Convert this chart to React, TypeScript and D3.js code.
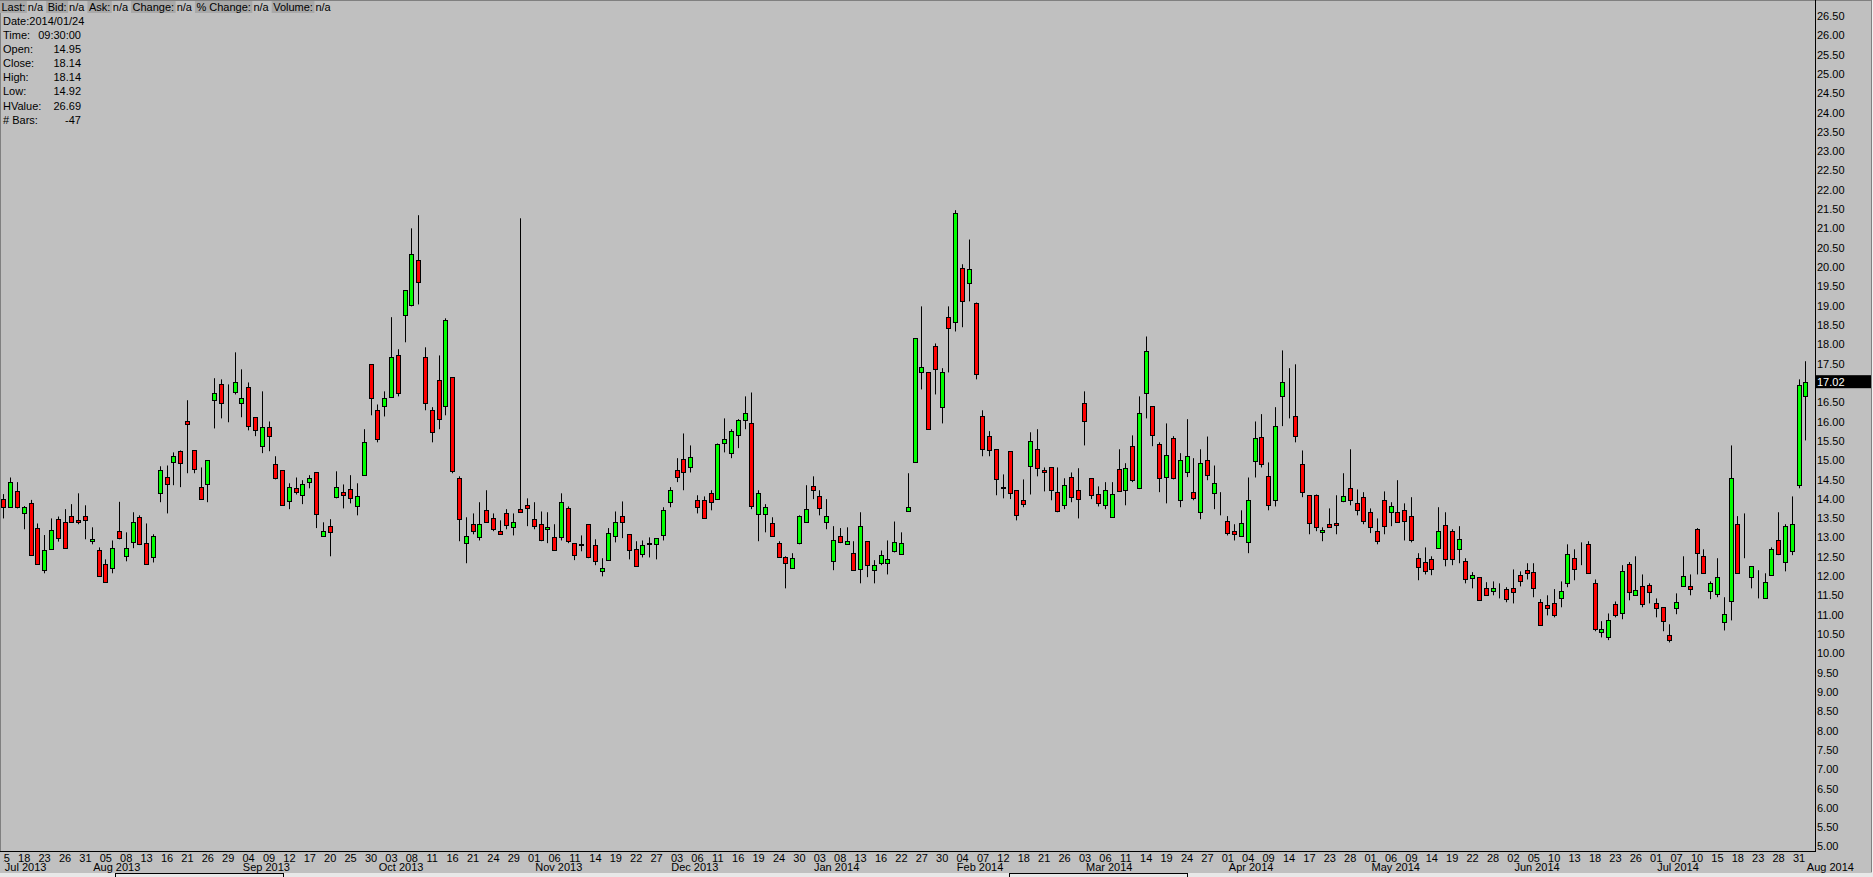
import React, { useRef, useEffect } from "react";
import * as d3 from "d3";

// exchange holidays inside the range (no bars on these days)
const holidays = [
  "2013-09-02", "2013-11-28", "2013-12-25", "2014-01-01", "2014-01-20",
  "2014-02-17", "2014-04-18", "2014-05-26", "2014-07-04",
];

// daily OHLC, 2013-07-15 .. 2014-08-01
const opens = [
  13.98, 13.77, 14.19, 13.61, 13.87, 13.23, 12.14, 12.69, 13.46, 13.40, 13.54, 13.43, 13.54, 12.89, 12.65, 12.29, 12.19, 13.15, 12.50, 12.86,
  13.51, 12.84, 12.47, 14.13, 14.54, 14.93, 15.22, 15.99, 15.24, 14.29, 14.36, 16.54, 16.95, 16.77, 16.75, 16.46, 16.87, 16.10, 15.35, 15.84,
  14.88, 14.73, 13.92, 14.26, 14.08, 14.42, 14.67, 13.02, 13.28, 14.03, 14.16, 14.24, 13.79, 14.60, 17.47, 16.28, 16.38, 16.62, 17.70, 18.74,
  19.00, 20.16, 17.65, 16.28, 17.06, 16.38, 17.13, 14.52, 12.84, 13.33, 12.99, 13.69, 13.48, 13.15, 13.61, 13.25, 13.72, 13.82, 13.46, 13.33,
  13.20, 12.99, 12.99, 13.74, 12.84, 12.81, 13.33, 12.78, 12.11, 12.40, 13.02, 13.54, 13.07, 12.68, 12.55, 12.82, 12.81, 13.04, 13.90, 14.73,
  15.01, 14.80, 13.95, 13.95, 14.13, 13.98, 15.42, 15.17, 15.63, 16.02, 15.94, 13.59, 13.59, 13.35, 12.84, 12.48, 12.19, 12.84, 13.40, 14.31,
  14.05, 13.40, 12.37, 13.02, 12.81, 12.58, 12.16, 12.89, 12.14, 12.32, 12.32, 12.63, 12.55, 13.66, 14.95, 17.26, 17.26, 17.94, 16.36, 18.69,
  18.56, 19.96, 19.57, 19.07, 16.12, 15.61, 15.27, 14.28, 15.22, 14.21, 13.95, 14.83, 15.27, 14.73, 14.80, 14.16, 13.82, 14.55, 14.21, 16.46,
  14.52, 14.10, 13.82, 13.51, 14.75, 14.21, 15.35, 14.26, 16.72, 16.38, 15.40, 14.55, 15.55, 13.95, 14.67, 14.16, 13.64, 14.98, 14.13, 13.87,
  13.41, 13.15, 13.02, 12.86, 14.96, 15.58, 14.57, 13.97, 16.64, 16.10, 16.12, 14.88, 14.08, 14.08, 13.12, 13.33, 13.35, 13.92, 14.26, 13.87,
  14.03, 13.64, 13.15, 13.95, 13.64, 13.64, 13.69, 13.54, 12.45, 12.35, 12.42, 12.71, 13.30, 13.15, 12.68, 12.37, 11.93, 11.96, 11.67, 11.59,
  11.57, 11.65, 11.67, 12.01, 12.14, 12.09, 11.31, 11.23, 11.28, 11.41, 11.80, 12.45, 12.63, 12.81, 11.80, 10.53, 10.40, 11.26, 11.02, 12.29,
  11.49, 11.72, 11.75, 11.28, 11.18, 10.45, 11.15, 11.72, 11.72, 13.20, 12.50, 11.59, 11.52, 10.79, 11.33, 13.33, 12.82, 11.96, 11.54, 11.41,
  12.01, 12.91, 12.34, 12.63, 14.34, 16.64,
];
const highs = [
  14.11, 14.54, 14.42, 13.80, 13.96, 13.35, 13.05, 13.48, 13.53, 13.72, 13.85, 14.13, 13.82, 13.25, 12.73, 12.42, 12.91, 13.91, 13.12, 13.64,
  13.56, 13.35, 13.07, 14.83, 14.85, 15.19, 15.24, 16.54, 15.24, 14.80, 14.98, 17.11, 17.08, 16.95, 17.78, 17.34, 17.00, 16.10, 16.77, 15.99,
  15.09, 14.73, 14.39, 14.54, 14.47, 14.60, 14.67, 13.38, 13.46, 14.70, 14.36, 14.60, 14.39, 15.79, 17.47, 16.43, 16.77, 18.69, 17.86, 19.39,
  20.99, 21.33, 17.91, 16.36, 17.70, 18.66, 17.13, 14.57, 13.51, 13.61, 13.90, 14.21, 13.61, 13.43, 13.72, 13.61, 21.25, 14.00, 13.90, 13.66,
  13.64, 13.33, 14.13, 13.79, 12.84, 13.04, 13.33, 12.94, 12.45, 13.23, 13.66, 13.92, 13.07, 12.89, 12.91, 12.99, 12.97, 13.77, 14.29, 15.04,
  15.68, 15.37, 14.08, 14.05, 14.21, 15.42, 16.07, 15.79, 16.05, 16.64, 16.74, 14.21, 13.85, 13.51, 12.89, 12.50, 12.58, 13.56, 14.34, 14.57,
  14.21, 13.98, 13.28, 13.23, 13.25, 12.89, 13.64, 12.89, 12.40, 12.65, 12.91, 13.40, 13.12, 14.65, 18.14, 18.97, 17.26, 18.01, 17.37, 18.97,
  21.46, 20.06, 20.70, 19.07, 16.28, 15.74, 15.27, 14.62, 15.22, 14.21, 14.49, 15.71, 15.79, 14.80, 14.80, 14.80, 14.52, 14.67, 14.78, 16.77,
  14.52, 14.31, 14.42, 14.42, 15.27, 14.91, 15.63, 16.64, 18.19, 16.38, 15.45, 15.94, 15.61, 15.17, 16.05, 15.04, 15.27, 15.60, 14.85, 14.16,
  13.54, 13.33, 13.69, 14.54, 15.99, 16.18, 14.93, 16.36, 17.83, 17.37, 17.47, 15.24, 14.08, 14.10, 13.25, 13.74, 14.08, 14.65, 15.27, 14.23,
  14.16, 13.74, 13.48, 14.18, 13.90, 14.47, 13.87, 14.03, 12.58, 12.73, 12.50, 13.77, 13.64, 13.20, 13.28, 12.45, 12.09, 11.96, 11.83, 11.85,
  11.80, 11.70, 12.16, 12.11, 12.32, 12.32, 11.39, 11.49, 11.65, 11.85, 12.81, 12.68, 12.86, 12.89, 11.90, 10.82, 11.02, 11.33, 12.27, 12.35,
  12.50, 12.03, 11.80, 11.41, 11.18, 10.74, 11.54, 12.50, 12.03, 13.23, 12.68, 11.85, 12.45, 11.44, 15.37, 13.54, 13.61, 12.24, 12.14, 12.06,
  12.73, 13.64, 13.33, 14.05, 17.08, 17.55,
];
const lows = [
  13.48, 13.75, 13.74, 13.20, 12.53, 12.29, 12.06, 12.69, 12.88, 12.71, 13.38, 13.33, 12.94, 12.81, 11.98, 11.83, 12.06, 12.94, 12.37, 12.71,
  12.79, 12.29, 12.34, 13.90, 13.61, 14.34, 14.29, 14.65, 14.65, 13.98, 13.90, 15.81, 16.07, 15.97, 16.69, 16.10, 15.76, 15.61, 15.17, 15.22,
  14.49, 13.82, 13.72, 14.10, 13.85, 14.26, 13.23, 13.02, 12.50, 14.00, 13.74, 13.87, 13.56, 14.60, 16.15, 15.45, 16.12, 16.62, 16.64, 18.04,
  18.97, 19.02, 16.28, 15.45, 15.79, 16.15, 14.65, 12.89, 12.32, 13.07, 12.91, 13.40, 13.15, 13.07, 13.20, 13.04, 13.64, 13.28, 13.20, 12.89,
  12.84, 12.65, 12.91, 12.84, 12.40, 12.63, 12.45, 12.27, 11.98, 12.40, 12.86, 12.97, 12.42, 12.24, 12.47, 12.47, 12.42, 12.91, 13.77, 14.42,
  14.21, 14.67, 13.61, 13.48, 13.69, 13.98, 15.19, 15.04, 15.30, 15.79, 13.72, 12.89, 13.12, 13.02, 12.48, 11.67, 12.19, 12.81, 13.38, 13.98,
  13.56, 13.20, 12.14, 12.84, 12.81, 12.14, 11.80, 11.96, 11.80, 12.27, 12.03, 12.60, 12.55, 13.66, 14.92, 16.82, 15.79, 16.69, 15.94, 17.26,
  18.32, 18.43, 19.10, 17.08, 15.09, 15.09, 14.08, 14.00, 13.98, 13.43, 13.77, 14.10, 14.57, 14.18, 13.95, 13.64, 13.72, 13.90, 13.48, 15.37,
  13.98, 13.79, 13.72, 13.51, 14.18, 13.82, 14.42, 14.24, 16.07, 15.35, 14.16, 13.87, 14.49, 13.77, 14.55, 13.95, 13.46, 14.47, 13.72, 13.56,
  13.04, 12.91, 13.02, 12.58, 14.54, 14.80, 13.69, 13.79, 15.87, 16.07, 15.45, 14.03, 13.07, 13.15, 12.89, 13.25, 13.07, 13.90, 13.82, 13.56,
  13.33, 13.10, 12.81, 13.07, 13.28, 13.38, 12.91, 12.86, 11.88, 12.03, 12.01, 12.71, 12.24, 12.27, 12.32, 11.80, 11.67, 11.36, 11.49, 11.49,
  11.41, 11.31, 11.28, 11.72, 11.90, 11.44, 10.71, 10.97, 10.92, 11.18, 11.70, 11.88, 12.27, 12.06, 10.56, 10.40, 10.33, 10.92, 10.87, 11.36,
  11.49, 11.18, 11.28, 10.92, 10.56, 10.27, 11.00, 11.72, 11.49, 12.03, 12.06, 11.39, 11.44, 10.58, 10.84, 12.06, 12.45, 11.67, 11.41, 11.41,
  12.01, 12.53, 12.11, 12.53, 14.26, 15.50,
];
const closes = [
  13.77, 14.42, 13.77, 13.77, 12.53, 12.29, 12.65, 13.17, 12.97, 12.71, 13.38, 13.38, 13.43, 12.94, 11.98, 11.83, 12.71, 12.97, 12.71, 13.40,
  12.81, 12.29, 13.02, 14.73, 14.36, 15.09, 14.91, 15.92, 14.75, 13.98, 14.98, 16.74, 16.46, 16.78, 17.00, 16.59, 15.87, 15.76, 15.84, 15.61,
  14.52, 13.82, 14.29, 14.16, 14.36, 14.52, 13.59, 13.15, 13.12, 14.29, 14.08, 14.00, 14.05, 15.45, 16.59, 15.53, 16.59, 17.65, 16.72, 19.39,
  20.32, 19.59, 16.46, 15.71, 16.05, 18.63, 14.70, 13.46, 13.02, 13.15, 13.33, 13.40, 13.20, 13.07, 13.30, 13.40, 13.64, 13.74, 13.28, 12.91,
  13.25, 12.65, 13.90, 12.89, 12.53, 12.79, 12.47, 12.37, 12.19, 13.10, 13.38, 13.38, 12.65, 12.24, 12.79, 12.84, 12.97, 13.69, 14.21, 14.55,
  14.67, 15.06, 13.77, 13.48, 13.90, 15.40, 15.53, 15.74, 16.02, 16.20, 13.79, 14.13, 13.77, 13.02, 12.48, 12.32, 12.45, 13.54, 13.72, 14.21,
  13.74, 13.54, 12.91, 12.86, 12.89, 12.14, 13.28, 12.27, 12.27, 12.53, 12.42, 12.86, 12.84, 13.77, 18.14, 17.39, 15.79, 17.34, 17.26, 18.40,
  21.40, 19.10, 19.93, 17.21, 15.27, 15.24, 14.49, 14.29, 14.13, 13.56, 13.85, 15.48, 14.78, 14.67, 14.21, 13.66, 14.34, 14.03, 13.98, 15.99,
  14.08, 13.87, 14.21, 14.10, 14.18, 14.78, 14.47, 16.20, 17.81, 15.63, 14.52, 15.11, 14.52, 14.98, 15.09, 14.00, 14.91, 14.60, 14.39, 13.87,
  13.10, 13.07, 13.35, 13.95, 15.55, 14.88, 13.82, 15.87, 17.00, 16.10, 15.61, 14.16, 13.35, 13.25, 13.17, 13.25, 13.30, 14.05, 13.95, 13.69,
  13.41, 13.25, 12.89, 13.28, 13.79, 13.38, 13.41, 12.91, 12.22, 12.11, 12.16, 13.15, 12.42, 12.42, 12.94, 11.90, 12.01, 11.36, 11.49, 11.67,
  11.57, 11.39, 11.57, 11.85, 12.06, 11.67, 10.71, 11.15, 10.97, 11.59, 12.55, 12.16, 12.63, 12.06, 10.61, 10.61, 10.84, 10.97, 12.11, 11.57,
  11.62, 11.26, 11.57, 11.15, 10.82, 10.33, 11.31, 11.98, 11.65, 12.58, 12.06, 11.80, 11.96, 11.00, 14.52, 12.06, 12.82, 12.24, 11.54, 11.83,
  12.68, 12.55, 13.28, 13.33, 16.93, 17.02,
];

const yTicks = [
  5.0, 5.5, 6.0, 6.5, 7.0, 7.5, 8.0, 8.5, 9.0, 9.5, 10.0, 10.5, 11.0, 11.5, 12.0, 12.5, 13.0, 13.5, 14.0, 14.5, 15.0, 15.5,
  16.0, 16.5, 17.0, 17.5, 18.0, 18.5, 19.0, 19.5, 20.0, 20.5, 21.0, 21.5, 22.0, 22.5, 23.0, 23.5, 24.0, 24.5, 25.0, 25.5, 26.0, 26.5,
];

const headerLabels = ["Last:", "Bid:", "Ask:", "Change:", "% Change:", "Volume:"];
const headerValues = ["n/a", "n/a", "n/a", "n/a", "n/a", "n/a"];

const infoLabels = ["Time:", "Open:", "Close:", "High:", "Low:", "HValue:", "# Bars:"];
const infoValues = ["09:30:00", "14.95", "18.14", "18.14", "14.92", "26.69", "-47"];
const infoDate = "Date:2014/01/24";
const lastPrice = 17.02;

const W = 1873;
const H = 877;
const FONT = "'Liberation Sans', Arial, sans-serif";
const AXIS_X = 1815;
const AXIS_Y = 851;

const fmtDay = d3.timeFormat("%Y-%m-%d");
const tradingDays = d3.timeDay
  .range(new Date(2013, 6, 15), new Date(2014, 7, 2))
  .filter(d => d.getDay() !== 0 && d.getDay() !== 6 && !holidays.includes(fmtDay(d)));

const App: React.FC = () => {
  const xAxisRef = useRef<SVGGElement | null>(null);
  const yAxisRef = useRef<SVGGElement | null>(null);

  const x = d3.scaleLinear().domain([0, opens.length - 1]).range([3.3, 1805.3]);
  const y = d3.scaleLinear().domain([5, 26.5]).range([846, 15.5]);

  useEffect(() => {
    const dayTicks = d3.range(0, tradingDays.length - 1, 3);
    const gx = d3.select(xAxisRef.current);
    gx.selectAll("*").remove();
    gx.call(
      d3.axisBottom(x)
        .tickValues(dayTicks)
        .tickSize(0)
        .tickFormat(i => d3.timeFormat("%d")(tradingDays[i as number]))
    );
    gx.select(".domain").remove();
    gx.attr("font-family", FONT).attr("font-size", 11);
    gx.selectAll("text").attr("y", 11).attr("dy", 0).attr("fill", "#000");

    const gy = d3.select(yAxisRef.current);
    gy.selectAll("*").remove();
    gy.call(
      d3.axisRight(y)
        .tickValues(yTicks)
        .tickSize(0)
        .tickPadding(2)
        .tickFormat(d3.format(".2f"))
    );
    gy.select(".domain").remove();
    gy.attr("font-family", FONT).attr("font-size", 11);
    gy.selectAll("text").attr("dy", "0.36em").attr("fill", "#000");
  }, []);

  const monthStarts = tradingDays
    .map((d, i) => i)
    .filter(i => i === 0 || tradingDays[i].getMonth() !== tradingDays[i - 1].getMonth());

  // header label boxes laid out one after another
  const ctx = document.createElement("canvas").getContext("2d");
  if (ctx) ctx.font = "11px 'Liberation Sans', Arial";
  const tw = (s: string) => (ctx ? ctx.measureText(s).width : s.length * 6);
  let hx = 0;
  const header = headerLabels.map((lab, i) => {
    const bx = hx;
    const bw = tw(lab) + 3;
    const vx = bx + bw + 1;
    hx = vx + tw(headerValues[i]) + 3;
    return { lab, val: headerValues[i], bx, bw, vx };
  });

  const lastY = y(lastPrice);

  return (
    <div style={{ position: "fixed", left: 0, top: 0, width: W, height: H }}>
      <svg width={W} height={H} style={{ display: "block" }} fontFamily={FONT}>
        <defs>
          <clipPath id="xlab-clip">
            <rect x={3.5} y={AXIS_Y} width={AXIS_X} height={20} />
          </clipPath>
        </defs>
        <rect x={0} y={0} width={W} height={H} fill="#c0c0c0" />
        <line x1={0} x2={W} y1={0.5} y2={0.5} stroke="#808080" />
        <line x1={0.5} x2={0.5} y1={0} y2={AXIS_Y} stroke="#808080" />
        <line x1={1871.5} x2={1871.5} y1={0} y2={872} stroke="#808080" />
        <rect x={1872} y={0} width={1} height={H} fill="#f0f0f0" />

        {/* candles */}
        <g>
          {opens.map((o, i) => {
            const c = closes[i];
            const cx = Math.round(x(i)) + 0.5;
            const top = Math.round(y(Math.max(o, c)));
            const bot = Math.round(y(Math.min(o, c)));
            const up = c >= o;
            return (
              <g key={i}>
                <line x1={cx} x2={cx} y1={y(highs[i])} y2={y(lows[i])} stroke="#000" strokeWidth={1} />
                <rect
                  x={cx - 2}
                  y={top + 0.5}
                  width={4}
                  height={Math.max(0, bot - top)}
                  fill={up ? "#00ff00" : "#ff0000"}
                  stroke="#000"
                  strokeWidth={1}
                />
              </g>
            );
          })}
        </g>

        {/* axes frame */}
        <line x1={AXIS_X + 0.5} x2={AXIS_X + 0.5} y1={0} y2={AXIS_Y + 1} stroke="#000" />
        <line x1={0} x2={AXIS_X + 1} y1={AXIS_Y + 0.5} y2={AXIS_Y + 0.5} stroke="#000" />

        <g ref={yAxisRef} transform={`translate(${AXIS_X},0)`} />
        <rect x={AXIS_X + 1} y={lastY - 6.5} width={55} height={13} fill="#000" />
        <text x={AXIS_X + 2} y={lastY} dy="0.36em" fontSize={11} fill="#fff">
          {lastPrice.toFixed(2)}
        </text>

        <g clipPath="url(#xlab-clip)">
          <g ref={xAxisRef} transform={`translate(0,${AXIS_Y})`} />
        </g>
        {monthStarts.map(i => (
          <text key={i} x={x(i) + 1.5} y={870.5} fontSize={11} fill="#000">
            {d3.timeFormat("%b %Y")(tradingDays[i])}
          </text>
        ))}

        {/* bottom scroll strip */}
        <rect x={0} y={873} width={W} height={4} fill="#e8e8e8" />
        <rect x={115.5} y={873.5} width={168} height={4} fill="none" stroke="#000" />
        <rect x={1009.5} y={873.5} width={178} height={4} fill="none" stroke="#000" />

        {/* header row */}
        {header.map(h => (
          <g key={h.lab}>
            <rect x={h.bx} y={1} width={h.bw} height={12} fill="#a9a9a9" />
            <text x={h.bx + 1.5} y={10.5} fontSize={11} fill="#000">{h.lab}</text>
            <text x={h.vx} y={10.5} fontSize={11} fill="#000">{h.val}</text>
          </g>
        ))}

        {/* info box */}
        <text x={3} y={24.5} fontSize={11} fill="#000">{infoDate}</text>
        {infoLabels.map((lab, i) => (
          <g key={lab}>
            <text x={3} y={39 + i * 14.1} fontSize={11} fill="#000">{lab}</text>
            <text x={81} y={39 + i * 14.1} fontSize={11} fill="#000" textAnchor="end">{infoValues[i]}</text>
          </g>
        ))}
      </svg>
    </div>
  );
};

export default App;
